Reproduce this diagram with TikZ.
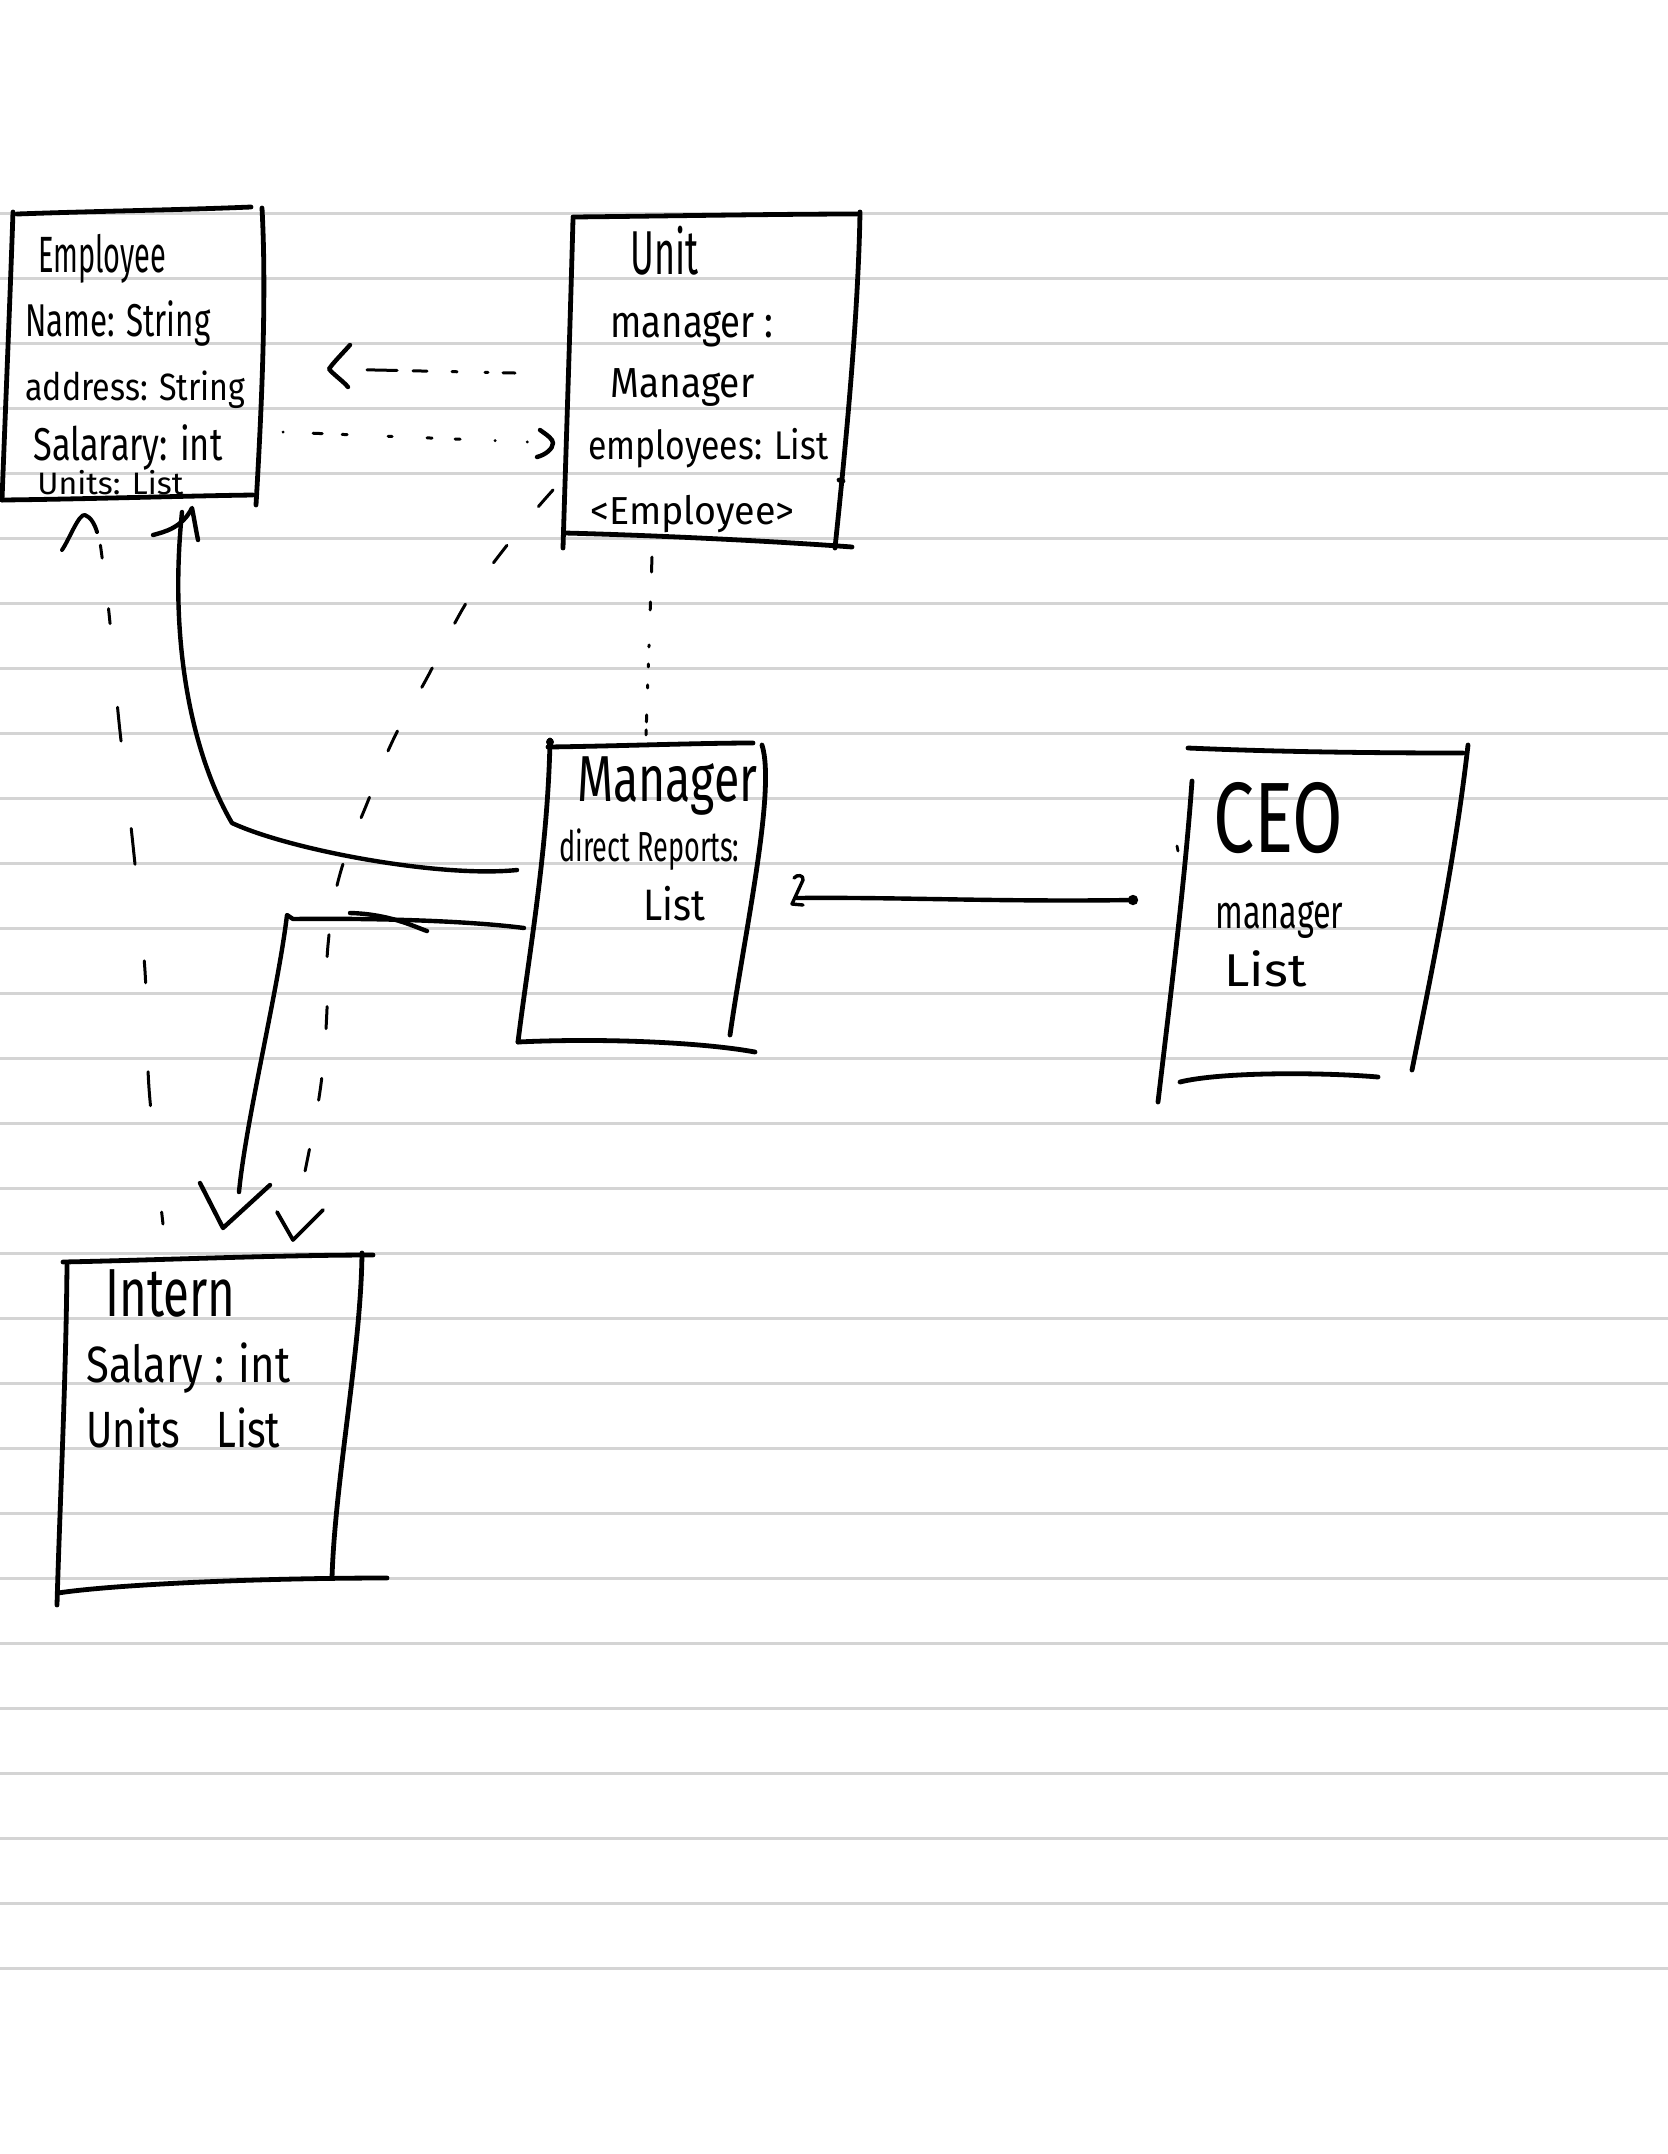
\documentclass[tikz,border=0pt]{standalone}
\usepackage{fontspec}
\usepackage{graphicx}
\setmainfont{Fira Sans}
\definecolor{ruleg}{RGB}{212,212,212}
% handwritten-style label: width (pt), font size (pt), text
\newcommand{\hw}[3]{\resizebox{#1pt}{\height}{\fontsize{#2pt}{#2pt}\selectfont #3}}
\begin{document}
\begin{tikzpicture}[x=0.5pt,y=-0.5pt,line cap=round,line join=round,
  rule/.style={draw=ruleg,line width=1.5pt},
  edge/.style={draw=black,line width=2.4pt},
  wire/.style={draw=black,line width=2.2pt},
  dashwire/.style={draw=black,line width=1.5pt},
  head/.style={draw=black,line width=2.2pt},
  txt/.style={anchor=base west,inner sep=0pt,text=black}]

% page and ruling
\fill[white] (0,0) rectangle (1668,2154);
\useasboundingbox (0,0) rectangle (1668,2154);
\foreach \k in {0,...,27}
  \draw[rule] (0,{213+65*\k}) -- (1668,{213+65*\k});

% ---------------- Employee
\draw[edge] (17,214) .. controls (100,211) and (180,210) .. (251,207);
\draw[edge] (13,212) .. controls (10,300) and (5,420) .. (2,500);
\draw[edge] (262,208) .. controls (267,300) and (261,420) .. (256,505);
\draw[edge] (2,500) .. controls (90,499) and (180,496) .. (253,495);
\node[txt] (eTitle) at (38,272) {\hw{64}{25.5}{Employee}};
\node[txt] (eName)  at (25,336) {\hw{92.5}{23}{Name: String}};
\node[txt] (eAddr)  at (25,400) {\hw{110}{19}{address: String}};
\node[txt] (eSal)   at (33,460) {\hw{94.5}{23}{Salarary: int}};
\node[txt] (eUnits) at (37,494) {\hw{73}{15.5}{Units: List}};

% ---------------- Unit
\draw[edge] (573,217) .. controls (670,216) and (780,214) .. (858,214);
\draw[edge] (573,219) .. controls (570,330) and (566,450) .. (563,548);
\draw[edge] (860,212) .. controls (858,330) and (842,480) .. (835,548);
\draw[edge] (565,533) .. controls (680,536) and (800,543) .. (852,547);
\draw[edge] (839,480) -- (843,481);
\node[txt] (uTitle) at (630,274) {\hw{34}{31}{Unit}};
\node[txt] (uMgr)   at (610,337) {\hw{81.5}{22.5}{manager :}};
\node[txt] (uMgrT)  at (610,397) {\hw{72}{21}{Manager}};
\node[txt] (uEmps)  at (588,459) {\hw{120}{20}{employees: List}};
\node[txt] (uEmpT)  at (590,524) {\hw{102}{19.5}{<Employee>}};

% ---------------- Manager
\draw[edge] (548,747) .. controls (620,746) and (700,743) .. (753,743);
\draw[edge] (550,740) .. controls (548,850) and (528,960) .. (518,1042);
\draw[edge] (762,745) .. controls (776,790) and (745,930) .. (730,1035);
\draw[edge] (518,1042) .. controls (600,1038) and (700,1042) .. (755,1052);
\fill (550,742) circle[radius=2pt];
\node[txt] (mTitle) at (577,801) {\hw{90}{32.5}{Manager}};
\node[txt] (mRep)   at (559,861) {\hw{90}{21}{direct Reports:}};
\node[txt] (mList)  at (643,920) {\hw{31}{22}{List}};

% ---------------- CEO
\draw[edge] (1188,748) .. controls (1280,752) and (1380,753) .. (1463,753);
\draw[edge] (1468,745) .. controls (1455,860) and (1430,980) .. (1412,1070);
\draw[edge] (1192,781) .. controls (1185,880) and (1170,1000) .. (1158,1102);
\draw[edge] (1180,1082) .. controls (1220,1072) and (1320,1072) .. (1378,1077);
\draw[line width=1.4pt] (1177,846) -- (1178,851);
\node[txt] (cTitle) at (1213,852) {\hw{65}{50}{CEO}};
\node[txt] (cMgr)   at (1215,928) {\hw{64}{23.5}{manager}};
\node[txt] (cList)  at (1224,986) {\hw{41}{23}{List}};

% ---------------- Intern
\draw[edge] (63,1262) .. controls (160,1260) and (280,1255) .. (373,1255);
\draw[edge] (67,1265) .. controls (66,1380) and (60,1500) .. (57,1605);
\draw[edge] (362,1253) .. controls (361,1350) and (335,1480) .. (332,1578);
\draw[edge] (58,1593) .. controls (110,1585) and (250,1578) .. (387,1578);
\node[txt] (iTitle) at (105,1316) {\hw{65}{34}{Intern}};
\node[txt] (iSal)   at (86,1382) {\hw{102}{25.5}{Salary : int}};
\node[txt] (iUnits) at (86,1447) {\hw{97}{25.5}{Units\hspace{0.9em}List}};

% ---------------- connector end points
\coordinate (aTail) at (515,373);  \coordinate (aTip) at (329,369);
\coordinate (bTail) at (283,432);  \coordinate (bTip) at (553,443);
\coordinate (cTop)  at (652,557);  \coordinate (cBot) at (646,735);
\coordinate (dTop)  at (553,490);  \coordinate (dBot) at (298,1205);
\coordinate (dTip)  at (293,1240);
\coordinate (eStart) at (524,928); \coordinate (eCorner) at (287,915);
\coordinate (eEnd) at (239,1192);  \coordinate (eTip) at (223,1228);
\coordinate (fStart) at (517,870); \coordinate (fCorner) at (232,823);
\coordinate (fEnd) at (182,512);   \coordinate (fTip) at (192,508);
\coordinate (gBot) at (163,1224);  \coordinate (gTop) at (100,542);
\coordinate (gTip) at (85,515);
\coordinate (hStart) at (1133,900); \coordinate (hEnd) at (797,898);

% Unit -> Employee (dashed)
\draw[dashwire,dash pattern=on 6pt off 7.5pt on 1.5pt off 14pt on 2.5pt off 12.5pt on 7pt off 8pt on 15pt off 40pt]
  (aTail) -- (aTip);
\begin{scope}[shift={(aTip)}]
  \draw[head] (21,-24) .. controls (12,-14) and (4,-6) .. (0,0) .. controls (5,6) and (14,12) .. (19,18);
\end{scope}

% Employee -> Unit (dashed)
\draw[dashwire,dash pattern=on 0.1pt off 15pt on 4.5pt off 10pt on 2.5pt off 20.5pt on 2pt off 17.5pt on 2.5pt off 11.5pt on 2.5pt off 17.5pt on 0.1pt off 16pt on 0.1pt off 30pt]
  (bTail) -- (bTip);
\begin{scope}[shift={(bTip)}]
  \draw[head] (-13,-13) .. controls (-6,-8) and (0,-4) .. (0,0) .. controls (0,6) and (-8,12) .. (-16,14);
\end{scope}

% Unit -> Manager (dotted)
\draw[dashwire,line width=1.5pt,dash pattern=on 7.5pt off 15pt on 4pt off 17.5pt on 1pt off 8.5pt on 1.5pt off 9pt on 1.5pt off 13.5pt on 3.5pt off 4pt on 2.5pt off 20pt]
  (cTop) -- (cBot);

% Unit -> Intern (dashed curve)
\draw[dashwire,dash pattern=on 11pt off 25pt]
  plot[smooth,tension=0.7] coordinates {(dTop) (515,535) (468,600) (428,676) (394,738) (368,801) (340,874) (328,945) (327,1009) (322,1076) (312,1136) (dBot)};
\begin{scope}[shift={(dTip)}]
  \draw[head,line width=1.9pt] (-16,-28) -- (0,0) -- (30,-30);
\end{scope}

% Manager -> Intern (solid)
\draw[wire] (eStart) .. controls (470,921) and (380,918) .. (293,919) -- (eCorner)
  .. controls (278,990) and (246,1120) .. (eEnd);
\draw[wire] (350,913) .. controls (390,914) and (415,927) .. (427,931);
\begin{scope}[shift={(eTip)}]
  \draw[head] (-23,-45) -- (0,0) -- (47,-43);
\end{scope}

% Manager -> Employee (solid)
\draw[wire] (fStart) .. controls (440,878) and (290,850) .. (fCorner)
  .. controls (195,760) and (168,650) .. (fEnd);
\begin{scope}[shift={(fTip)}]
  \draw[head] (-39,27) .. controls (-28,24) and (-10,20) .. (0,0) .. controls (2,10) and (4,22) .. (6,32);
\end{scope}

% Intern -> Employee (dashed)
\draw[dashwire,dash pattern=on 6pt off 53.5pt on 17pt off 44.5pt on 11pt off 48.5pt on 18pt off 44pt on 17pt off 42pt on 7.5pt off 25.5pt on 6.5pt off 50pt]
  plot[smooth] coordinates {(gBot) (149,1088) (145,971) (133,845) (119,722) (109,613) (gTop)};
\begin{scope}[shift={(gTip)}]
  \draw[head,line width=2pt] (-23,35) .. controls (-16,25) and (-6,-2) .. (0,0) .. controls (6,2) and (10,10) .. (12,17);
\end{scope}

% CEO -> Manager (solid)
\draw[wire] (hStart) .. controls (1000,902) and (900,897) .. (hEnd);
\fill (hStart) circle[radius=2.6pt];
\begin{scope}[shift={(hEnd)}]
  \draw[head,line width=1.7pt] (-3,-20) .. controls (0,-24) and (7,-23) .. (6,-18) -- (-5,6) -- (6,7);
\end{scope}

\end{tikzpicture}
\end{document}
